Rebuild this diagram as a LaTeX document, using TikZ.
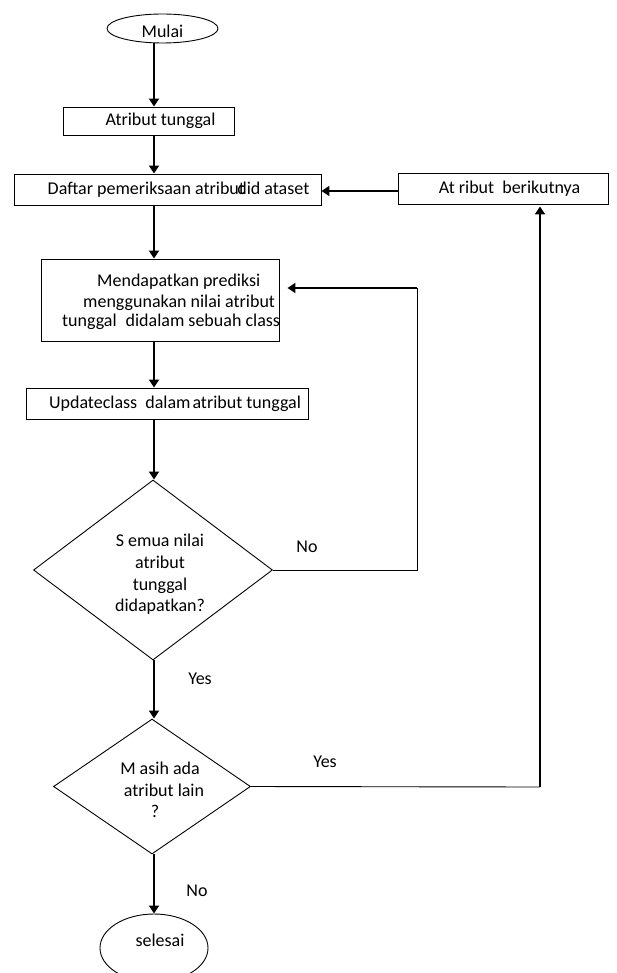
\documentclass[tikz,border=0pt]{standalone}
\usepackage{fontspec}
\setmainfont{Carlito}
\usetikzlibrary{shapes.geometric,arrows.meta,calc}
\tikzset{
  box/.style={draw,line width=0.9pt,rectangle,inner sep=0pt},
  term/.style={draw,line width=0.9pt,ellipse,inner sep=0pt},
  dec/.style={draw,line width=0.9pt,diamond,inner sep=0pt},
  txt/.style={inner sep=0pt,align=center},
  flow/.style={line width=2.4pt,-{Triangle[length=8pt,width=10pt]}},
  thinline/.style={line width=0.9pt},
  lbl/.style={inner sep=0pt}
}
\begin{document}
\begin{tikzpicture}[x=1pt,y=-1pt,font=\fontsize{18}{21.7}\selectfont]
\useasboundingbox (0,0) rectangle (616,973);
\coordinate (ax) at (154,0);
\node[term,minimum width=111pt,minimum height=29pt] (mulai) at (162.5,28.5) {\raisebox{-3pt}[\height][\depth]{Mulai}};
\node[box,minimum width=171pt,minimum height=28pt] (tunggal) at (148.5,121) {\hspace*{24pt}Atribut tunggal};
\node[box,minimum width=307pt,minimum height=31pt] (daftar) at (167.5,189.5) {\hspace*{22pt}Daftar pemeriksaan atribut\kern-0.42em did ataset};
\node[box,minimum width=210pt,minimum height=31pt] (next) at (503,188.5) {\hspace*{13pt}At ribut\ \ berikutnya};
\node[box,minimum width=238pt,minimum height=82pt] (predict) at (160,300) {};
\node[txt,align=left,anchor=west] (predicttext) at (62,302) {\hspace*{35pt}Mendapatkan prediksi\\[-1pt]\hspace*{21pt}menggunakan nilai atribut\\[-2pt]tunggal\hspace{9pt}didalam sebuah class};
\node[box,minimum width=282pt,minimum height=31pt] (update) at (167,403.5) {\hspace*{16pt}Updateclass\ \ dalam\hspace{2pt}atribut tunggal};
\node[dec,minimum width=239pt,minimum height=180pt] (dec1) at (153,570) {};
\node[txt] (dec1text) at (160,574.5) {S emua nilai\\atribut\\tunggal\\didapatkan?};
\node[dec,minimum width=197pt,minimum height=135pt] (dec2) at (152,786.5) {};
\node[txt] (dec2text) at (160,790) {M asih ada\\\hspace*{8pt}atribut lain\\\hspace*{-10pt}?};
\node[term,minimum width=108pt,minimum height=68pt] (selesai) at (154,948) {\hspace*{12pt}\raisebox{8pt}[\height][\depth]{selesai}};
\coordinate (c1) at (417,570);
\coordinate (c2) at (417,288);
\coordinate (c3) at (540,787);
\draw[flow] (mulai.south -| ax) -- (tunggal.north -| ax);
\draw[flow] (tunggal.south -| ax) -- (daftar.north -| ax);
\draw[flow] (daftar.south -| ax) -- (predict.north -| ax);
\draw[flow] (predict.south -| ax) -- (update.north -| ax);
\draw[flow] (update.south -| ax) -- (dec1.north -| ax);
\draw[flow] (dec1.south -| ax) -- (dec2.north -| ax);
\draw[flow] (dec2.south -| ax) -- (selesai.north -| ax);
\draw[flow] (next.west |- 0,191) -- (daftar.east |- 0,191);
\draw[thinline] (dec1.east) -- (c1) -- (c2);
\draw[flow,shorten >=8pt] (c2) -- (predict.east |- c2);
\draw[thinline] (dec2.east) -- (c3);
\draw[flow,shorten >=2pt] (c3) -- (next.south -| c3);
\node[lbl] (no1) at (307,547) {No};
\node[lbl] (yes1) at (200,679) {Yes};
\node[lbl] (yes2) at (325,762) {Yes};
\node[lbl] (no2) at (197,891) {No};
\end{tikzpicture}
\end{document}
